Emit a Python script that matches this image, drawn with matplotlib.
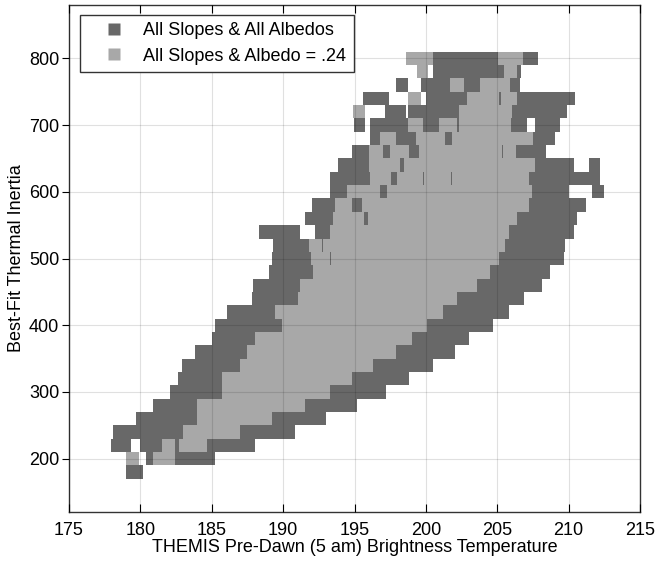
import matplotlib
matplotlib.use("Agg")
import matplotlib.pyplot as plt
from matplotlib.lines import Line2D

plt.rcParams["font.family"] = ["Liberation Sans", "DejaVu Sans"]

# Thermal inertia rows (bin centres, bin height 20)
inertia_rows = [180, 200, 220, 240, 260, 280, 300, 320, 340, 360, 380, 400,
                420, 440, 460, 480, 500, 520, 540, 560, 580, 600, 620, 640,
                660, 680, 700, 720, 740, 760, 780, 800]

# Brightness temperature spans per row, all slopes & all albedos
all_albedo_spans = [
    [(179.0, 180.2)],
    [(180.4, 185.2)],
    [(177.95, 179.35), (180.0, 188.0)],
    [(178.1, 190.8)],
    [(179.7, 193.0)],
    [(180.9, 195.2)],
    [(182.07, 197.2)],
    [(182.66, 198.8)],
    [(182.9, 200.5)],
    [(183.8, 202.05)],
    [(185.0, 203.0)],
    [(185.2, 204.7)],
    [(186.05, 205.8)],
    [(187.8, 206.85)],
    [(187.9, 208.1)],
    [(189.0, 208.7)],
    [(189.25, 209.7)],
    [(189.3, 209.75)],
    [(188.3, 191.2), (192.2, 210.35)],
    [(191.55, 210.6)],
    [(192.0, 211.2)],
    [(193.3, 210.0), (211.6, 212.45)],
    [(193.3, 212.2)],
    [(193.85, 210.35), (211.4, 212.2)],
    [(194.8, 208.4)],
    [(196.05, 209.06)],
    [(194.93, 195.74), (196.05, 207.07), (207.66, 209.4)],
    [(197.15, 198.62), (198.78, 209.85)],
    [(195.6, 197.38), (200.0, 210.46)],
    [(197.9, 198.78), (199.65, 206.6)],
    [(200.49, 206.65)],
    [(200.49, 207.82)],
]

# Brightness temperature spans per row, all slopes & albedo = .24
fixed_albedo_spans = [
    [],
    [(179.0, 179.9), (180.85, 182.4)],
    [(181.5, 182.4), (182.7, 184.65)],
    [(183.0, 187.0)],
    [(183.94, 189.2)],
    [(183.94, 191.5)],
    [(185.7, 193.3)],
    [(185.7, 194.8)],
    [(187.0, 196.3)],
    [(187.45, 197.9)],
    [(188.0, 199.0)],
    [(189.9, 200.1)],
    [(189.4, 201.2)],
    [(191.05, 202.2)],
    [(191.2, 203.6)],
    [(192.1, 204.5)],
    [(191.95, 193.25), (193.35, 205.1)],
    [(191.8, 192.7), (192.8, 205.55)],
    [(193.3, 205.8)],
    [(193.5, 195.63), (195.93, 206.37)],
    [(193.6, 194.8), (195.5, 207.2)],
    [(194.5, 196.8), (197.26, 207.4)],
    [(196.05, 197.54), (197.96, 199.77), (199.84, 201.75), (201.82, 207.2)],
    [(196.0, 198.2), (198.48, 207.65)],
    [(196.0, 197.0), (197.45, 198.8), (199.5, 205.32), (205.4, 206.33)],
    [(196.8, 197.9), (199.3, 201.35), (201.8, 207.5)],
    [(198.78, 199.83), (200.95, 202.2), (202.35, 205.95)],
    [(194.88, 195.74), (202.3, 206.0)],
    [(198.78, 199.65), (202.9, 205.1), (205.25, 206.35)],
    [(201.7, 202.64), (203.8, 205.9)],
    [(199.37, 200.18), (205.44, 206.37)],
    [(198.62, 200.49), (205.02, 206.79)],
]

labels = ["All Slopes & All Albedos", "All Slopes & Albedo = .24"]
dark = "#686868"
light = "#a8a8a8"
row_height = 20

fig = plt.figure(figsize=(6.58, 5.62), dpi=100)
ax = fig.add_axes([0.1049, 0.089, 0.8678, 0.902])

for v, spans in zip(inertia_rows, all_albedo_spans):
    if spans:
        ax.broken_barh([(a, b - a) for a, b in spans], (v - row_height / 2, row_height),
                       facecolor=dark, edgecolor="none", zorder=1)
for v, spans in zip(inertia_rows, fixed_albedo_spans):
    if spans:
        ax.broken_barh([(a, b - a) for a, b in spans], (v - row_height / 2, row_height),
                       facecolor=light, edgecolor="none", zorder=2)

ax.set_xlim(175, 215)
ax.set_ylim(120, 880)
ax.set_xticks(range(175, 216, 5))
ax.set_yticks(range(200, 801, 100))

# Grid over the cells, like the original
ax.grid(True, color="black", alpha=0.12, linewidth=0.8, zorder=3)
ax.set_axisbelow(False)

ax.tick_params(axis="x", direction="in", top=True, length=6, width=0.8, labelsize=13, pad=7)
ax.tick_params(axis="y", direction="out", length=5, width=0.8, labelsize=13, pad=2)
for side in ["top", "bottom", "left", "right"]:
    ax.spines[side].set_color("#333333")
    ax.spines[side].set_linewidth(1.0)

ax.set_xlabel("THEMIS Pre-Dawn (5 am) Brightness Temperature", fontsize=13, labelpad=0)
ax.set_ylabel("Best-Fit Thermal Inertia", fontsize=13, labelpad=3)

handles = [Line2D([], [], linestyle="none", marker="s", markersize=9,
                  markerfacecolor=c, markeredgecolor="none") for c in (dark, light)]
leg = ax.legend(handles, labels, loc="upper left", bbox_to_anchor=(0.019, 0.98),
                borderaxespad=0, fontsize=13, handlelength=3.0, handletextpad=0.12,
                borderpad=0.4, labelspacing=0.45, fancybox=False, framealpha=1)
leg.get_frame().set_edgecolor("#333333")
leg.get_frame().set_linewidth(1.0)
leg.set_zorder(5)

plt.savefig("out.png", dpi=100)
